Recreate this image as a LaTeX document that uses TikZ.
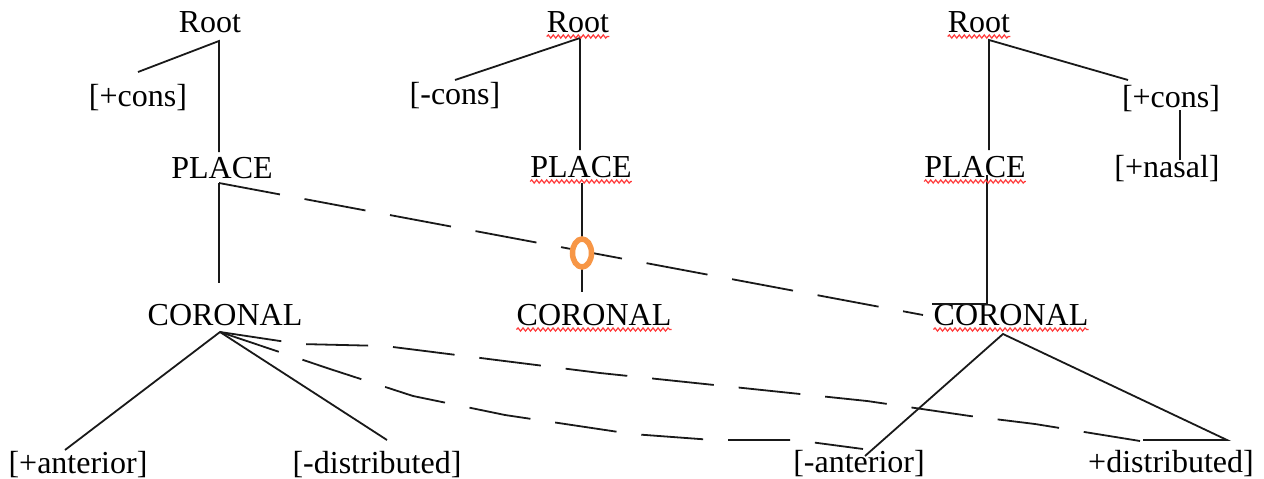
\documentclass[tikz,border=0pt]{standalone}
\usepackage{fontspec}
\setmainfont{Liberation Serif}
\usetikzlibrary{decorations.pathmorphing,shapes.geometric}
\definecolor{ink}{RGB}{25,25,25}
\definecolor{ringorange}{RGB}{247,150,70}
\definecolor{spell}{RGB}{255,60,60}
\tikzset{
  lbl/.style={anchor=base, inner sep=0pt, font=\fontsize{32}{38}\selectfont, text=black},
  tie/.style={draw=ink, line width=1.8pt},
  link/.style={draw=ink, line width=1.8pt, dash pattern=on 62pt off 25pt},
  squiggle/.style={draw=spell, line width=1.2pt, decorate,
                   decoration={snake, segment length=5pt, amplitude=1.6pt}},
}
\begin{document}
\begin{tikzpicture}[x=1pt, y=-1pt]
\useasboundingbox (0,0) rectangle (1264,479);

% ---- first tree ----
\node[lbl] (rootA)  at (210,32)  {Root};
\node[lbl] (consA)  at (138,106) {[+cons]};
\node[lbl] (placeA) at (222,178) {PLACE};
\node[lbl] (corA)   at (225,325) {CORONAL};
\node[lbl] (antA)   at (78,473)  {[+anterior]};
\node[lbl] (distA)  at (377,473) {[-distributed]};

\coordinate (rA)   at (219,41);
\coordinate (cA)   at (138,72);
\coordinate (pAt)  at (219,152);
\coordinate (pA)   at (219,183);
\coordinate (kAt)  at (219,283);
\coordinate (kA)   at (220,332);
\coordinate (aAt)  at (65,450);
\coordinate (dAt)  at (387,440);

\draw[tie] (cA) -- (rA) -- (pAt);
\draw[tie] (pA) -- (kAt);
\draw[tie] (aAt) -- (kA) -- (dAt);

% ---- second tree ----
\node[lbl] (rootB)  at (578,32)  {Root};
\node[lbl] (consB)  at (455,104) {[-cons]};
\node[lbl] (placeB) at (581,177) {PLACE};
\node[lbl] (corB)   at (594,325) {CORONAL};

\coordinate (rB)  at (580,38);
\coordinate (cB)  at (455,80);
\coordinate (pBt) at (580,150);
\coordinate (pB)  at (582,183);
\coordinate (kBt) at (582,292);

\draw[tie] (cB) -- (rB) -- (pBt);
\draw[tie] (pB) -- (kBt);

% ---- third tree ----
\node[lbl] (rootC)  at (979,32)   {Root};
\node[lbl] (consC)  at (1171,107) {[+cons]};
\node[lbl] (nasC)   at (1167,177) {[+nasal]};
\node[lbl] (placeC) at (975,177)  {PLACE};
\node[lbl] (corC)   at (1011,325) {CORONAL};
\node[lbl] (antC)   at (859,472)  {[-anterior]};
\node[lbl] (distC)  at (1171,472) {+distributed]};

\coordinate (rC)   at (989,40);
\coordinate (cC)   at (1128,80);
\coordinate (pCt)  at (989,150);
\coordinate (cCb)  at (1180,110);
\coordinate (nCt)  at (1180,160);
\coordinate (pC)   at (987,175);
\coordinate (kCc)  at (987,304);
\coordinate (kCl)  at (932,304);
\coordinate (kC)   at (1003,334);
\coordinate (aCt)  at (865,456);
\coordinate (dCr)  at (1227,440);
\coordinate (dCl)  at (1143,440);

\draw[tie] (pCt) -- (rC) -- (cC);
\draw[tie] (cCb) -- (nCt);
\draw[tie] (pC) -- (kCc) -- (kCl);
\draw[tie] (aCt) -- (kC) -- (dCr) -- (dCl);

% ---- dashed association lines ----
\coordinate (kCw) at (923,315);
\coordinate (aCr) at (863,449);
\coordinate (dCe) at (1140,441);
\draw[link] (pA) -- (kCw);
\draw[link] (kA) -- (300,344) -- (385,346) -- (600,373)
            -- (762,390) -- (867,401) -- (970,416) -- (1035,424) -- (dCe);
\draw[link] (kA) -- (330,369) -- (413,396) -- (505,415) -- (632,434) -- (713,440)
            -- (795,440) -- (aCr);

% ---- delinked place node marker ----
\coordinate (cut) at (582,253);
\draw[draw=ringorange, fill=white, line width=5.5pt] (cut) ellipse [x radius=9.5, y radius=14];

% ---- spelling underlines ----
\foreach \n in {rootB,placeB,corB,rootC,placeC,corC}
  \draw[squiggle] ([yshift=-4.5pt]\n.base west) -- ([yshift=-4.5pt]\n.base east);
\end{tikzpicture}
\end{document}
